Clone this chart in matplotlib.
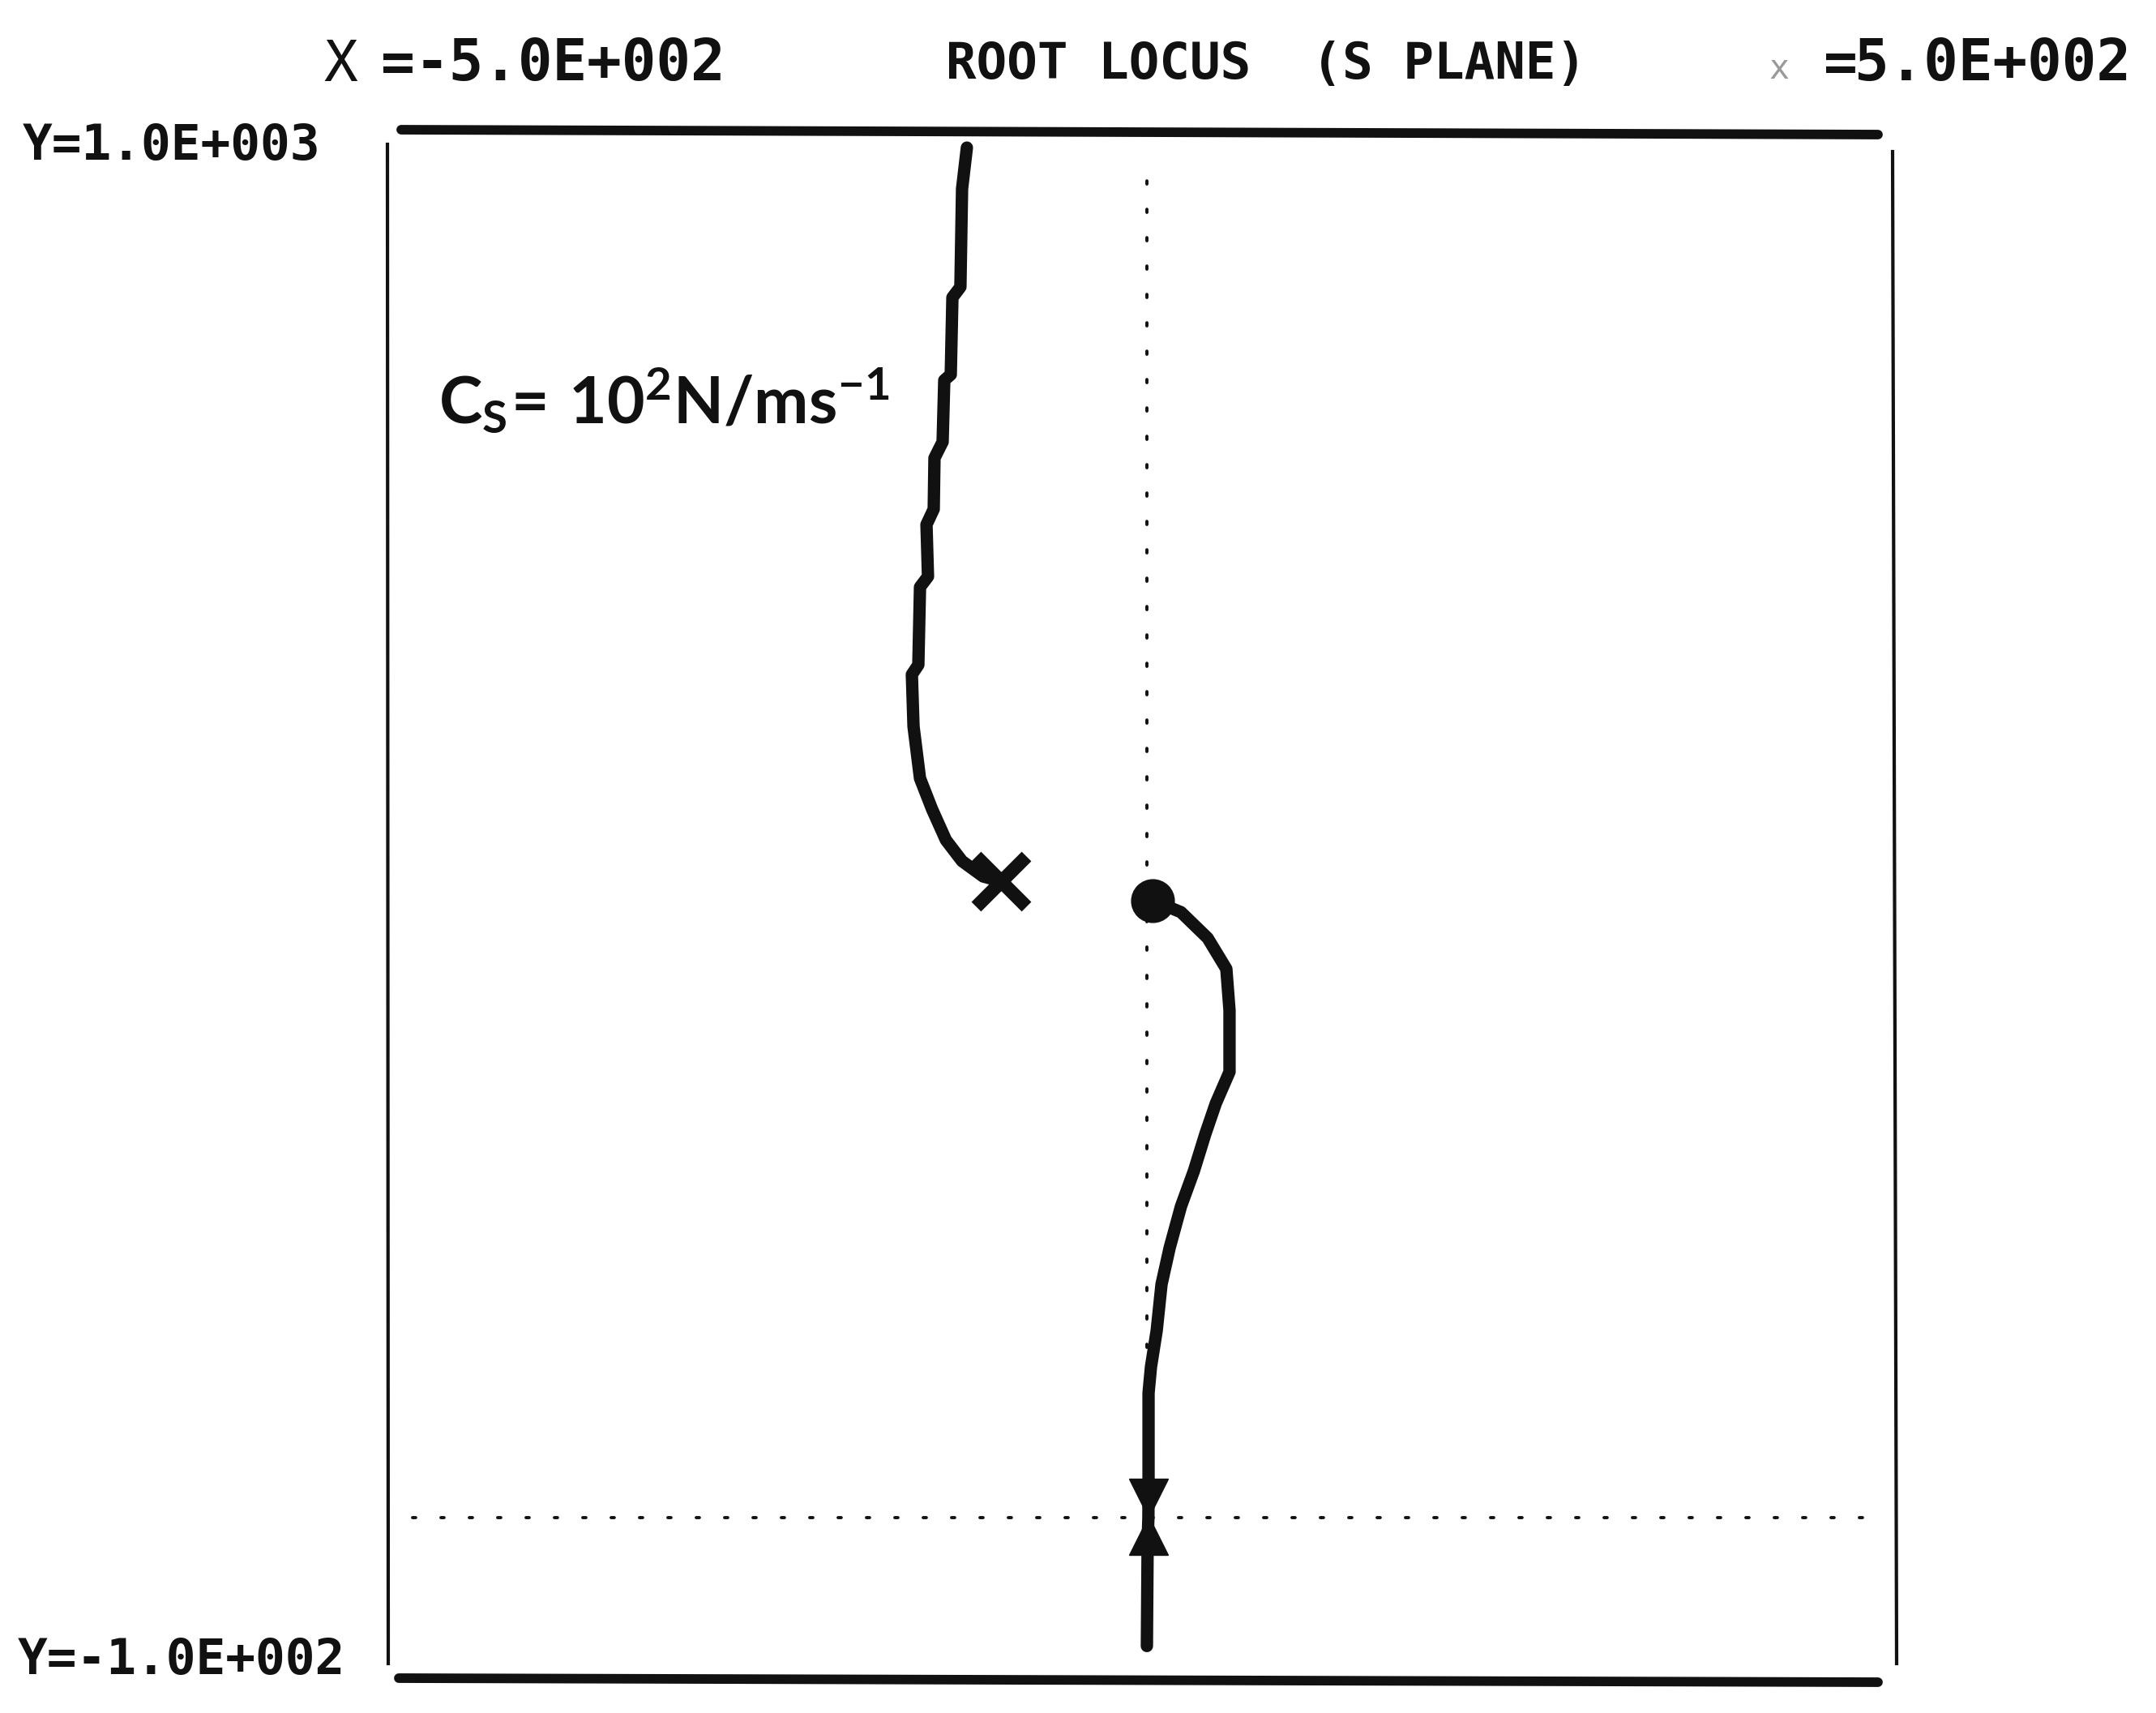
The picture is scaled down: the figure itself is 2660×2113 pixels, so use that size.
import matplotlib
matplotlib.use("Agg")
import matplotlib.pyplot as plt
from matplotlib.lines import Line2D

plt.rcParams['mathtext.fontset'] = 'custom'
plt.rcParams['mathtext.rm'] = 'Lato:bold'
plt.rcParams['mathtext.it'] = 'Lato:bold'
plt.rcParams['mathtext.bf'] = 'Lato:black'

# s-plane window
X_MIN, X_MAX = -500, 500
Y_MIN, Y_MAX = -100, 1000

# upper branch: from the top of the window down to the pole
branch_left_re = [-119.4, -122.6, -123.7, -129.0, -130.1, -134.4, -135.5, -140.9,
                  -141.4, -146.2, -145.2, -150.5, -151.6, -155.9, -154.8, -150.5,
                  -142.5, -133.3, -122.6, -108.6, -97.0]
branch_left_im = [990.0, 960.2, 889.3, 881.7, 826.0, 821.9, 777.4, 765.7,
                  728.8, 717.6, 680.1, 672.5, 616.3, 609.3, 571.8, 534.3,
                  512.0, 489.7, 474.5, 463.4, 460.0]

# lower branch: from the zero down through the real axis
branch_right_re = [4.0, 22.6, 40.3, 52.7, 54.8, 54.8, 45.7, 38.7, 31.2, 22.6,
                   15.1, 9.7, 6.5, 2.7, 1.1, 1.1, 1.0, 0.5, 0.0]
branch_right_im = [446.0, 437.6, 418.9, 396.6, 366.7, 322.2, 299.4, 277.1, 250.7,
                   225.0, 195.1, 168.7, 135.3, 109.0, 90.2, 22.8, 0.0, -16.4, -92.6]

pole_re, pole_im = [-97.0], [460.0]
zero_re, zero_im = [4.0], [446.0]
arrow_down_re, arrow_down_im = [1.0], [14.0]
arrow_up_re, arrow_up_im = [1.0], [-13.0]

header_left = "-5.0E+002"
header_right = "5.0E+002"
label_top = "Y=1.0E+003"
label_bottom = "Y=-1.0E+002"
title = "ROOT LOCUS  (S PLANE)"

INK = "#111111"
W, H = 2660, 2113
fig = plt.figure(figsize=(W / 100, H / 100), dpi=100)
fig.patch.set_facecolor("white")


def fx(px):
    return px / W


def fy(py):
    return 1 - py / H


ax = fig.add_axes([fx(485), fy(2043), fx(2345) - fx(485), fy(165) - fy(2043)])
ax.set_xlim(X_MIN, X_MAX)
ax.set_ylim(Y_MIN, Y_MAX)
ax.axis("off")

# dotted real and imaginary axes
zero_frac = (0 - Y_MIN) / (Y_MAX - Y_MIN)
ax.axhline(0, xmin=0.013, xmax=0.984, color=INK, lw=2.8, ls=(0, (1, 8)),
           dash_capstyle="round")
ax.axvline(0, ymin=zero_frac, ymax=0.984, color=INK, lw=2.8, ls=(0, (1, 8)),
           dash_capstyle="round")

# locus branches
ax.plot(branch_left_re, branch_left_im, color=INK, lw=11,
        solid_capstyle="round", solid_joinstyle="round")
ax.plot(branch_right_re, branch_right_im, color=INK, lw=11,
        solid_capstyle="round", solid_joinstyle="round")

# pole, zero and real-axis arrows
ax.plot(pole_re, pole_im, ls="none", marker="x", ms=44, mew=12, color=INK)
ax.plot(zero_re, zero_im, ls="none", marker="o", ms=38, color=INK)
ax.plot(arrow_down_re, arrow_down_im, ls="none", marker="v", ms=34, color=INK)
ax.plot(arrow_up_re, arrow_up_im, ls="none", marker="^", ms=34, color=INK)

ax.text(-470, 806, r"$\mathrm{C_S\!=\,10^2N/ms^{-1}}$", fontsize=58,
        color=INK, ha="left", va="center")

# plotter frame
fig.add_artist(Line2D([fx(495), fx(2317)], [fy(160), fy(166)], lw=8.5,
                      color=INK, solid_capstyle="round"))
fig.add_artist(Line2D([fx(492), fx(2317)], [fy(2070), fy(2075)], lw=8.5,
                      color=INK, solid_capstyle="round"))
fig.add_artist(Line2D([fx(478), fx(479)], [fy(178), fy(2052)], lw=3,
                      color=INK))
fig.add_artist(Line2D([fx(2335), fx(2340)], [fy(187), fy(2052)], lw=3,
                      color=INK))

mono = dict(family="DejaVu Sans Mono", color=INK, va="center", ha="left")
fig.text(fx(399), fy(80), "X", size=50, **mono)
fig.text(fx(470), fy(80), "=", size=50, weight="bold", **mono)
fig.text(fx(512), fy(80), header_left, size=51, weight="bold", **mono)
fig.text(fx(1167), fy(80), title, size=45, weight="bold", **mono)
fig.text(fx(2182), fy(85), "x", size=30, family="DejaVu Sans Mono",
         color="#9a9a9a", va="center", ha="left")
fig.text(fx(2250), fy(80), "=", size=50, weight="bold", **mono)
fig.text(fx(2288), fy(80), header_right, size=51, weight="bold", **mono)
fig.text(fx(28), fy(180), label_top, size=44, weight="bold", **mono)
fig.text(fx(22), fy(2048), label_bottom, size=44, weight="bold", **mono)

fig.savefig("out.png", dpi=100, facecolor="white")
